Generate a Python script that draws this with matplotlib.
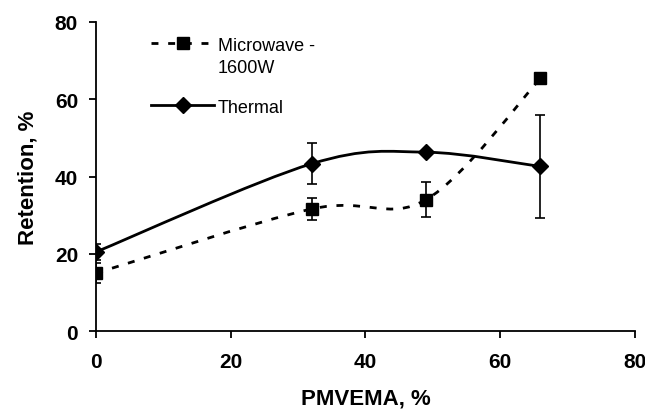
import numpy as np
import matplotlib
matplotlib.use("Agg")
import matplotlib.pyplot as plt
from matplotlib.path import Path
from matplotlib.patches import PathPatch
from matplotlib.lines import Line2D

# data
pmvema = [0, 32, 49, 66]
microwave = [15.0, 31.6, 34.0, 65.4]
microwave_err = [2.5, 2.9, 4.6, 0.0]
thermal = [20.5, 43.3, 46.3, 42.6]
thermal_err = [2.0, 5.3, 0.0, 13.4]

plt.rcParams["font.family"] = ["Liberation Sans", "DejaVu Sans"]


def smooth_path(x, y):
    # excel-style smoothed line: cubic bezier through the points
    pts = np.column_stack([x, y]).astype(float)
    n = len(pts)
    verts = [pts[0]]
    codes = [Path.MOVETO]
    for i in range(n - 1):
        p_prev = pts[i - 1] if i > 0 else pts[i]
        p_next2 = pts[i + 2] if i + 2 < n else pts[i + 1]
        c1 = pts[i] + (pts[i + 1] - p_prev) / 6
        c2 = pts[i + 1] - (p_next2 - pts[i]) / 6
        verts += [c1, c2, pts[i + 1]]
        codes += [Path.CURVE4] * 3
    return Path(verts, codes)


fig = plt.figure(figsize=(6.45, 4.1), dpi=100)
ax = fig.add_axes([0.149, 0.19, 0.835, 0.754])

dash = (0, (2.5, 3.5))
ax.add_patch(PathPatch(smooth_path(pmvema, microwave), fill=False, lw=2,
                       ls=dash, color="black"))
ax.add_patch(PathPatch(smooth_path(pmvema, thermal), fill=False, lw=2,
                       color="black"))

ax.errorbar(pmvema, microwave, yerr=microwave_err, fmt="s", ms=9, color="black",
            ecolor="black", elinewidth=1.2, capsize=3.8, capthick=1.2)
ax.errorbar(pmvema, thermal, yerr=thermal_err, fmt="D", ms=8, color="black",
            ecolor="black", elinewidth=1.2, capsize=3.8, capthick=1.2)

ax.set_xlim(0, 80)
ax.set_ylim(0, 80)
ax.set_xticks([0, 20, 40, 60, 80])
ax.set_yticks([0, 20, 40, 60, 80])
for side in ["top", "right"]:
    ax.spines[side].set_visible(False)
for side in ["left", "bottom"]:
    ax.spines[side].set_linewidth(1.3)
ax.tick_params(direction="out", length=5, width=1.3, labelsize=15)
ax.tick_params(axis="x", pad=10)
ax.tick_params(axis="y", pad=8)
for lab in ax.get_xticklabels() + ax.get_yticklabels():
    lab.set_fontweight("bold")
ax.set_xlabel("PMVEMA, %", fontsize=16, fontweight="bold", labelpad=12)
ax.set_ylabel("Retention, %", fontsize=16, fontweight="bold", labelpad=12)

handles = [
    Line2D([], [], color="black", lw=2, ls=dash, marker="s", ms=9),
    Line2D([], [], color="black", lw=2, marker="D", ms=8),
]
ax.legend(handles, ["Microwave -", "Thermal"], loc="upper left",
          bbox_to_anchor=(0.072, 1.005), frameon=False, fontsize=13,
          handlelength=3.5, labelspacing=2.5, handletextpad=0.2)
# second line of the microwave legend label
ax.text(0.226, 0.854, "1600W", transform=ax.transAxes, fontsize=13,
        ha="left", va="center")

fig.savefig("out.png", dpi=100)
